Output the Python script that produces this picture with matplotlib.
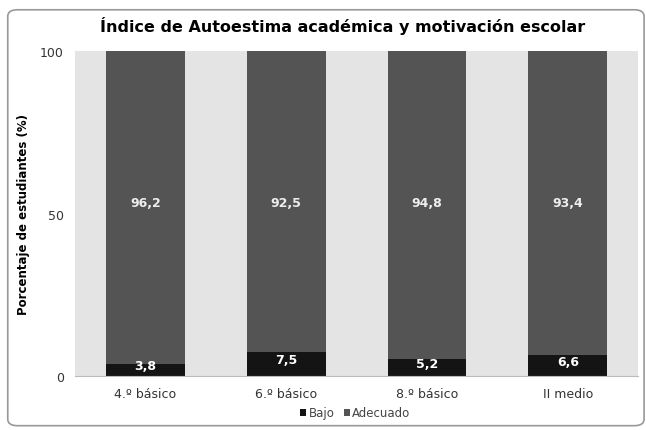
import numpy as np
import matplotlib.pyplot as plt
from matplotlib.patches import FancyBboxPatch

categorias = ["4.º básico", "6.º básico", "8.º básico", "II medio"]
bajo = [3.8, 7.5, 5.2, 6.6]
adecuado = [96.2, 92.5, 94.8, 93.4]

fig = plt.figure(figsize=(6.46, 4.31), dpi=100)
ax = fig.add_axes([0.116, 0.125, 0.872, 0.754])

# outer frame
frame = FancyBboxPatch((0.012, 0.01), 0.985, 0.965, boxstyle="round,pad=0,rounding_size=0.015",
                       transform=fig.transFigure, facecolor="none", edgecolor="#999999", linewidth=1.2)
fig.patches.append(frame)

x = np.arange(len(categorias))
w = 0.56
ax.set_facecolor("#e4e4e4")
b1 = ax.bar(x, bajo, w, color="#141414", label="Bajo")
b2 = ax.bar(x, adecuado, w, bottom=bajo, color="#545454", label="Adecuado")

for i in range(len(x)):
    ax.text(x[i], bajo[i] / 2 + 1.3, f"{bajo[i]:.1f}".replace(".", ","), ha="center", va="center",
            color="white", fontsize=9, fontweight="bold")
    ax.text(x[i], 50 + 3.5, f"{adecuado[i]:.1f}".replace(".", ","), ha="center", va="center",
            color="#eeeeee", fontsize=9, fontweight="bold")

ax.set_xlim(-0.5, 3.5)
ax.set_ylim(0, 100)
ax.set_yticks([0, 50, 100])
ax.set_xticks(x)
ax.set_xticklabels(categorias, fontsize=9)
ax.tick_params(length=0, labelsize=9, pad=8, labelcolor="#333333")
for s in ["top", "right", "left"]:
    ax.spines[s].set_visible(False)
ax.spines["bottom"].set_color("#bbbbbb")

ax.set_ylabel("Porcentaje de estudiantes (%)", fontsize=8.5, fontweight="bold")
ax.yaxis.set_label_coords(-0.08, 0.5)
fig.suptitle("Índice de Autoestima académica y motivación escolar", fontsize=11.5,
             fontweight="bold", x=0.53, y=0.96)

fig.legend(loc="lower center", bbox_to_anchor=(0.55, 0.0), ncol=2, frameon=False, fontsize=8.5,
           handlelength=0.5, handleheight=0.5, handletextpad=0.2, columnspacing=0.8,
           labelcolor="#444444")

fig.savefig("out.png", dpi=100)
